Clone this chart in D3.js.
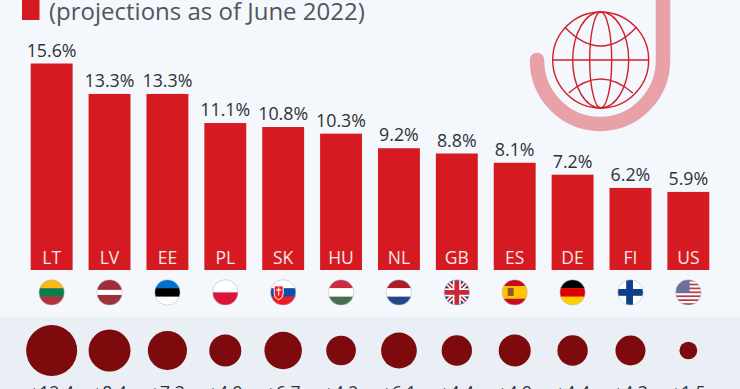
<!DOCTYPE html>
<html>
<head>
<meta charset="utf-8">
<script src="https://cdn.jsdelivr.net/npm/d3@7"></script>
<style>
  html, body { margin: 0; padding: 0; background: #f4f7fb; overflow: hidden; }
  svg { display: block; font-family: "Open Sans", sans-serif; }
</style>
</head>
<body>
<div id="chart"></div>
<script>
(function () {
  'use strict';

  var codes = ['LT', 'LV', 'EE', 'PL', 'SK', 'HU', 'NL', 'GB', 'ES', 'DE', 'FI', 'US'];
  var inflation = [15.6, 13.3, 13.3, 11.1, 10.8, 10.3, 9.2, 8.8, 8.1, 7.2, 6.2, 5.9];
  var change = [12.4, 8.4, 7.3, 4.9, 6.7, 4.2, 6.1, 4.4, 4.9, 4.4, 4.3, 1.5];

  // flag stripes, top to bottom (FI, GB, US get extra drawing below)
  var flagStripes = [
    ['#fdb913', '#0f7a4c', '#b5303a'],
    ['#9e3039', '#9e3039', '#ffffff', '#9e3039', '#9e3039'],
    ['#0072ce', '#000000', '#ffffff'],
    ['#ffffff', '#dc143c'],
    ['#ffffff', '#0b4ea2', '#ee1c25'],
    ['#cd2a3e', '#ffffff', '#436f4d'],
    ['#ae1c28', '#ffffff', '#21468b'],
    ['#f4f7fb'],
    ['#c60b1e', '#ffc400', '#ffc400', '#c60b1e'],
    ['#000000', '#dd0000', '#ffce00'],
    ['#ffffff'],
    ['#ffffff']
  ];

  var width = 740, height = 389;
  var baseline = 270;
  var barRed = '#d61a22';

  var svg = d3.select('#chart').append('svg').attr('width', width).attr('height', height);
  var defs = svg.append('defs');

  svg.append('rect').attr('width', width).attr('height', height).attr('fill', '#f4f7fb');
  svg.append('rect').attr('y', 317).attr('width', width).attr('height', 72).attr('fill', '#eaeef5');

  var x = d3.scaleBand().domain(codes).range([22.6, 717.4]).paddingInner(0.276).paddingOuter(0.14);
  var y = d3.scaleLinear().domain([0, 15.6]).range([baseline, 63.5]);
  var r = d3.scaleSqrt().domain([0, 12.4]).range([0, 25.5]);
  var cx = function (c) { return x(c) + x.bandwidth() / 2; };

  // title, cut off by the crop apart from its last line
  svg.append('rect').attr('x', 22).attr('y', 0).attr('width', 17.5).attr('height', 20).attr('fill', barRed);
  svg.append('text').attr('x', 49).attr('y', 20).attr('font-size', 24).attr('fill', '#4d5760')
    .text('(projections as of June 2022)');

  // globe badge
  var badge = svg.append('g').attr('fill', 'none');
  badge.append('path').attr('d', 'M537 60 A 63 64 0 0 0 600 124 A 63 64 0 0 0 663 60 V0')
    .attr('stroke', '#e9a1a8').attr('stroke-width', 14.5).attr('stroke-linecap', 'round');
  var globe = badge.append('g').attr('stroke', '#d0202c').attr('stroke-width', 1.4);
  var gx = 600.7, gy = 60, gr = 48;
  globe.append('circle').attr('cx', gx).attr('cy', gy).attr('r', gr);
  [11, 28].forEach(function (rx) {
    globe.append('ellipse').attr('cx', gx).attr('cy', gy).attr('rx', rx).attr('ry', gr);
  });
  globe.append('line').attr('x1', gx - gr).attr('x2', gx + gr).attr('y1', gy).attr('y2', gy);
  globe.append('path').attr('d', 'M' + (gx - 36) + ' ' + (gy - 33) + ' Q' + gx + ' ' + (gy + 5) + ' ' + (gx + 36) + ' ' + (gy - 33));
  globe.append('path').attr('d', 'M' + (gx - 32) + ' ' + (gy + 33) + ' Q' + gx + ' ' + (gy + 5) + ' ' + (gx + 32) + ' ' + (gy + 33));

  // bars
  svg.selectAll('rect.bar').data(codes).enter().append('rect').attr('class', 'bar')
    .attr('x', function (c) { return x(c); })
    .attr('width', x.bandwidth())
    .attr('y', function (c, i) { return y(inflation[i]); })
    .attr('height', function (c, i) { return baseline - y(inflation[i]); })
    .attr('fill', barRed);

  svg.selectAll('text.val').data(codes).enter().append('text').attr('class', 'val')
    .attr('x', cx)
    .attr('y', function (c, i) { return y(inflation[i]) - 7; })
    .attr('text-anchor', 'middle').attr('font-size', 17.8).attr('fill', '#2d3338')
    .text(function (c, i) { return inflation[i].toFixed(1) + '%'; });

  svg.selectAll('text.code').data(codes).enter().append('text').attr('class', 'code')
    .attr('x', cx).attr('y', 263.5)
    .attr('text-anchor', 'middle').attr('font-size', 17.5).attr('fill', '#f7e6e7')
    .text(function (c) { return c; });

  // flags
  var flagR = 12.7, flagY = 292.4;
  codes.forEach(function (c, i) {
    var id = 'clip-' + c;
    defs.append('clipPath').attr('id', id).append('circle').attr('cx', cx(c)).attr('cy', flagY).attr('r', flagR);
    var f = svg.append('g').attr('clip-path', 'url(#' + id + ')');
    var left = cx(c) - flagR, top = flagY - flagR, size = flagR * 2;
    var stripes = flagStripes[i];
    stripes.forEach(function (col, k) {
      f.append('rect').attr('x', left).attr('width', size)
        .attr('y', top + size * k / stripes.length).attr('height', size / stripes.length + 0.3)
        .attr('fill', col);
    });
    if (c === 'FI') {
      f.append('rect').attr('x', left).attr('width', size).attr('y', flagY - 3.4).attr('height', 6.8).attr('fill', '#0f3f8c');
      f.append('rect').attr('x', cx(c) - 4.3).attr('width', 6.8).attr('y', top).attr('height', size).attr('fill', '#0f3f8c');
    }
    if (c === 'GB') {
      f.append('rect').attr('x', left).attr('width', size).attr('y', top).attr('height', size).attr('fill', '#1f3a7a');
      [[-1, -1, 1, 1], [-1, 1, 1, -1]].forEach(function (d) {
        f.append('line').attr('x1', cx(c) + d[0] * flagR).attr('y1', flagY + d[1] * flagR)
          .attr('x2', cx(c) + d[2] * flagR).attr('y2', flagY + d[3] * flagR)
          .attr('stroke', '#fff').attr('stroke-width', 5);
        f.append('line').attr('x1', cx(c) + d[0] * flagR).attr('y1', flagY + d[1] * flagR)
          .attr('x2', cx(c) + d[2] * flagR).attr('y2', flagY + d[3] * flagR)
          .attr('stroke', '#c8283a').attr('stroke-width', 1.8);
      });
      f.append('rect').attr('x', left).attr('width', size).attr('y', flagY - 4).attr('height', 8).attr('fill', '#fff');
      f.append('rect').attr('x', cx(c) - 4).attr('width', 8).attr('y', top).attr('height', size).attr('fill', '#fff');
      f.append('rect').attr('x', left).attr('width', size).attr('y', flagY - 2.4).attr('height', 4.8).attr('fill', '#c8283a');
      f.append('rect').attr('x', cx(c) - 2.4).attr('width', 4.8).attr('y', top).attr('height', size).attr('fill', '#c8283a');
    }
    if (c === 'US') {
      d3.range(13).forEach(function (k) {
        f.append('rect').attr('x', left).attr('width', size)
          .attr('y', top + size * k / 13).attr('height', size / 13 + 0.1)
          .attr('fill', k % 2 ? '#ffffff' : '#b5404c');
      });
      f.append('rect').attr('x', left).attr('width', flagR * 1.1).attr('y', top).attr('height', flagR * 1.05).attr('fill', '#6a6f9c');
    }
    if (c === 'ES') {
      f.append('rect').attr('x', cx(c) - 7).attr('y', flagY - 4.5).attr('width', 6).attr('height', 8).attr('fill', '#8d5a1f');
    }
    if (c === 'SK') {
      f.append('path').attr('d', 'M' + (cx(c) - 9) + ' ' + (flagY - 6.5) + 'h9v8q0 4 -4.5 6q-4.5 -2 -4.5 -6z')
        .attr('fill', '#ee1c25').attr('stroke', '#fff').attr('stroke-width', 1);
      f.append('path').attr('d', 'M' + (cx(c) - 4.5) + ' ' + (flagY - 5) + 'v8M' + (cx(c) - 7) + ' ' + (flagY - 2.5) + 'h5')
        .attr('stroke', '#fff').attr('stroke-width', 1.1).attr('fill', 'none');
    }
    svg.append('circle').attr('cx', cx(c)).attr('cy', flagY).attr('r', flagR)
      .attr('fill', 'none').attr('stroke', '#b9bec6').attr('stroke-width', 0.6);
  });

  // bubbles for the change, with labels cropped by the bottom edge
  svg.selectAll('circle.bubble').data(codes).enter().append('circle').attr('class', 'bubble')
    .attr('cx', cx).attr('cy', 350.5)
    .attr('r', function (c, i) { return r(change[i]); })
    .attr('fill', '#7d0a0c');

  svg.selectAll('text.change').data(codes).enter().append('text').attr('class', 'change')
    .attr('x', cx).attr('y', 398.5)
    .attr('text-anchor', 'middle').attr('font-size', 17.5).attr('fill', '#2d3338')
    .text(function (c, i) { return '+' + change[i].toFixed(1); });
})();
</script>
</body>
</html>
